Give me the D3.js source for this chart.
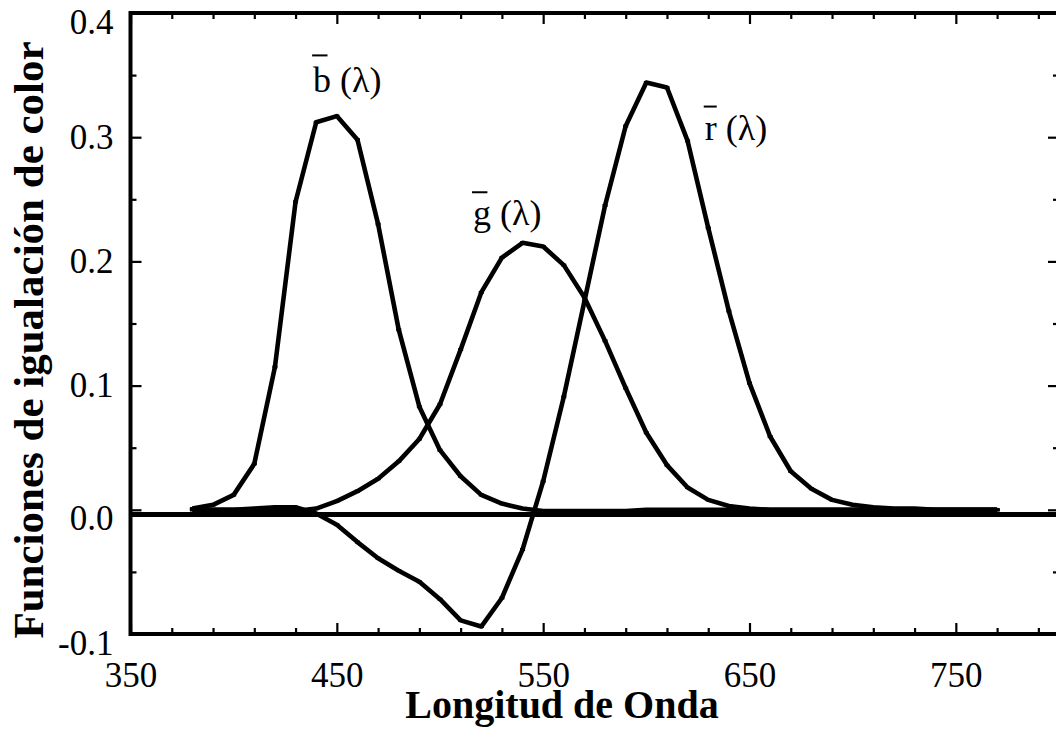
<!DOCTYPE html>
<html><head><meta charset="utf-8">
<script src="https://cdn.jsdelivr.net/npm/d3@7"></script>
<style>
body{margin:0;background:#fff}
svg{display:block}
</style>
</head><body>
<svg id="chart" width="1056" height="729"></svg>
<script>
// ---- data ----
const wavelengths = [380,390,400,410,420,430,440,450,460,470,480,490,500,510,520,530,540,550,560,570,
  580,590,600,610,620,630,640,650,660,670,680,690,700,710,720,730,740,750,760,770];
const rBar = [0.000,0.000,0.000,0.001,0.002,0.002,-0.003,-0.012,-0.026,-0.039,
  -0.049,-0.058,-0.072,-0.089,-0.094,-0.071,-0.032,0.023,0.091,0.168,
  0.245,0.309,0.344,0.340,0.297,0.227,0.160,0.102,0.059,0.031,
  0.017,0.008,0.004,0.002,0.001,0.001,0.000,0.000,0.000,0.000];
const gBar = [0.000,0.000,0.000,0.000,-0.001,-0.001,0.001,0.007,0.015,0.025,
  0.039,0.057,0.085,0.129,0.175,0.203,0.215,0.212,0.197,0.171,
  0.136,0.098,0.062,0.036,0.018,0.008,0.003,0.001,0.000,0.000,
  0.000,0.000,0.000,0.000,0.000,0.000,0.000,0.000,0.000,0.000];
const bBar = [0.001,0.004,0.012,0.037,0.115,0.248,0.312,0.317,0.298,0.230,
  0.145,0.083,0.048,0.027,0.012,0.005,0.001,-0.001,-0.001,-0.001,
  -0.001,-0.001,0.000,0.000,0.000,0.000,0.000,0.000,0.000,0.000,
  0.000,0.000,0.000,0.000,0.000,0.000,0.000,0.000,0.000,0.000];
const labelLetters = ["b","g","r"];
const labelWavelength = [438.5, 516, 628.3];
const labelValue = [0.336, 0.229, 0.298];
const xTickMajor = [350,450,550,650,750];
const xTickMinor = [370,390,410,430,470,490,510,530,570,590,610,630,670,690,710,730,770,790];
const yTickMajor = [-0.1,0.0,0.1,0.2,0.3,0.4];
const yTickMinor = [-0.05,0.05,0.15,0.25,0.35];
const yTickLabels = ["-0.1","0.0","0.1","0.2","0.3","0.4"];
const xTitle = "Longitud de Onda";
const yTitle = "Funciones de igualación de color";
const baselineValue = -0.0037;

// ---- layout ----
const FONT = '"Liberation Serif","Times New Roman",serif';
const svg = d3.select("#chart");
const L = 130.5, R = 1059, T = 13, B = 634;
const x = d3.scaleLinear().domain([350,800]).range([L,R]);
const y = d3.scaleLinear().domain([-0.1,0.4]).range([B,T]);
const AX = 4, TW = 2.2;

// zero line
svg.append("line")
  .attr("x1", x(350)).attr("x2", x(800))
  .attr("y1", y(baselineValue)).attr("y2", y(baselineValue))
  .attr("stroke","#000").attr("stroke-width",5);

// curves
const series = [rBar, gBar, bBar];
const line = d3.line().x((d,i)=>x(wavelengths[i])).y(d=>y(d));
series.forEach(s => {
  svg.append("path").datum(s).attr("d", line)
    .attr("fill","none").attr("stroke","#000").attr("stroke-width",4.6)
    .attr("stroke-linejoin","round");
  svg.append("g").selectAll("rect").data(s).join("rect")
    .attr("x",(d,i)=>x(wavelengths[i])-2.5).attr("y",d=>y(d)-1.5)
    .attr("width",5).attr("height",3).attr("fill","#000");
});

// axes
function styleAxis(g){
  g.select(".domain").remove();
  g.selectAll(".tick line").attr("stroke","#000").attr("stroke-width",TW);
}
// bottom
svg.append("g").attr("transform",`translate(0,${B})`)
  .call(d3.axisBottom(x).tickValues(xTickMinor).tickSize(-6).tickFormat("")).call(styleAxis);
const xb = svg.append("g").attr("transform",`translate(0,${B})`)
  .call(d3.axisBottom(x).tickValues(xTickMajor).tickSize(-11).tickFormat(d3.format("d"))).call(styleAxis);
xb.selectAll(".tick text").attr("y",53).attr("dy",0)
  .style("font-size","35px").style("font-family",FONT).attr("fill","#000");
// top
svg.append("g").attr("transform",`translate(0,${T})`)
  .call(d3.axisTop(x).tickValues(xTickMinor).tickSize(-6).tickFormat("")).call(styleAxis);
svg.append("g").attr("transform",`translate(0,${T})`)
  .call(d3.axisTop(x).tickValues(xTickMajor).tickSize(-11).tickFormat("")).call(styleAxis);
// left
svg.append("g").attr("transform",`translate(${L},0)`)
  .call(d3.axisLeft(y).tickValues(yTickMinor).tickSize(-6).tickFormat("")).call(styleAxis);
const yl = svg.append("g").attr("transform",`translate(${L},0)`)
  .call(d3.axisLeft(y).tickValues(yTickMajor).tickSize(-11).tickFormat((d,i)=>yTickLabels[i])).call(styleAxis);
yl.selectAll(".tick text").attr("x",-17).attr("dy",0)
  .attr("y",(d)=> (Math.abs(d-0.4)<1e-9 || Math.abs(d)<1e-9 || Math.abs(d+0.1)<1e-9) ? 20 : 11)
  .style("font-size","35px").style("font-family",FONT).attr("fill","#000");
// right
svg.append("g").attr("transform",`translate(${R},0)`)
  .call(d3.axisRight(y).tickValues(yTickMinor).tickSize(-6).tickFormat("")).call(styleAxis);
svg.append("g").attr("transform",`translate(${R},0)`)
  .call(d3.axisRight(y).tickValues(yTickMajor).tickSize(-11).tickFormat("")).call(styleAxis);

// frame
svg.append("rect").attr("x",L).attr("y",T).attr("width",R-L).attr("height",B-T)
  .attr("fill","none").attr("stroke","#000").attr("stroke-width",AX);

// titles
svg.append("text").attr("x",562).attr("y",718).attr("text-anchor","middle")
  .style("font-family",FONT).style("font-size","40px").style("font-weight","bold").text(xTitle);
svg.append("text").attr("transform","translate(43,340) rotate(-90)").attr("text-anchor","middle")
  .style("font-family",FONT).style("font-size","43px").style("font-weight","bold").text(yTitle);

// curve labels
labelLetters.forEach((c,i)=>{
  const fs = 36;
  const tx = x(labelWavelength[i]), ty = y(labelValue[i]);
  const t = svg.append("text").attr("x",tx).attr("y",ty)
    .style("font-family",FONT).style("font-size",fs+"px").text(c+" (λ)");
  const ext = t.node().getExtentOfChar(0);
  const barY = ty - (c==="b" ? 1.03 : 0.92)*fs;
  svg.append("line").attr("x1",ext.x-1).attr("x2",ext.x+Math.max(ext.width*0.8,12))
    .attr("y1",barY).attr("y2",barY).attr("stroke","#000").attr("stroke-width",2);
});
</script>
</body></html>
